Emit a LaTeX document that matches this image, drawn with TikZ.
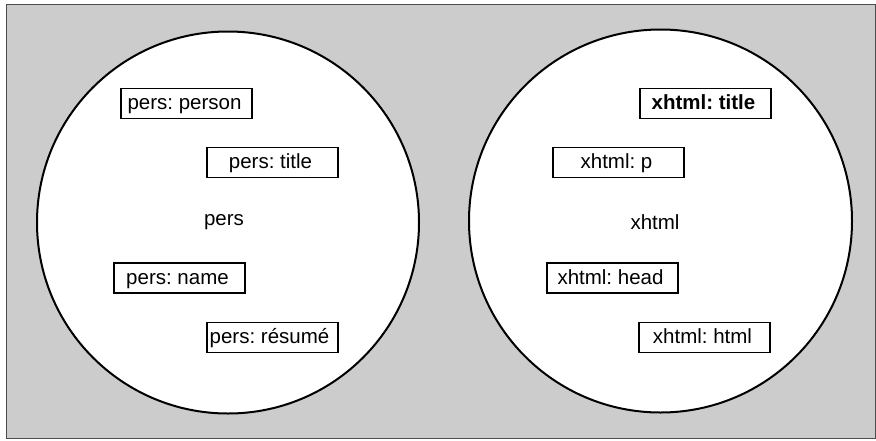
\documentclass[tikz,border=0pt]{standalone}
\usepackage{fontspec}
\setmainfont{Liberation Sans}
\frenchspacing
\begin{document}
\begin{tikzpicture}[x=1pt,y=-1pt,
  lbl/.style={draw=black, line width=1.2pt, fill=white, minimum width=131pt, minimum height=30pt, inner sep=0pt, text height=14pt, text depth=2pt, font=\fontsize{20.5}{24}\selectfont\frenchspacing},
  ring/.style={draw=black, line width=2pt, fill=white},
  plain/.style={font=\fontsize{20.5}{24}\selectfont, inner sep=0pt}]
\useasboundingbox (0,0) rectangle (876,440);
\filldraw[fill=black!20, draw=black!70, line width=1pt] (6,4.5) rectangle (875.5,438);
\draw[ring] (228,222.5) circle[radius=191];
\draw[ring] (660.5,221) circle[radius=191.5];
\node[plain] (pers) at (224,222) {pers};
\node[plain] (xhtml) at (655,222) {xhtml};
\node[lbl] (person) at (186.5,103.5) {pers: person\hspace*{4pt}};
\node[lbl] (ptitle) at (272.5,162.5) {pers: title\hspace*{4pt}};
\node[lbl] (pname) at (179.5,278) {pers: name\hspace*{4pt}};
\node[lbl] (presume) at (272.5,337.5) {pers: résumé\hspace*{6pt}};
\node[lbl] (xtitle) at (705.5,103.5) {\bfseries xhtml: title\hspace*{4pt}};
\node[lbl] (xp) at (618.5,162.5) {xhtml: p\hspace*{4pt}};
\node[lbl] (xhead) at (612.5,278) {xhtml: head\hspace*{4pt}};
\node[lbl] (xhtmlbox) at (704.5,337.5) {xhtml: html\hspace*{4pt}};
\end{tikzpicture}
\end{document}
